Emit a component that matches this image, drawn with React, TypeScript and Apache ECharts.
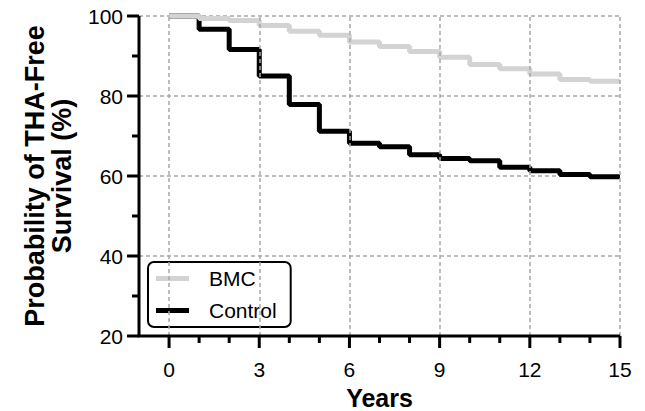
import React, { useEffect, useRef } from "react";
import * as echarts from "echarts";

const years = [0, 1, 2, 3, 4, 5, 6, 7, 8, 9, 10, 11, 12, 13, 14, 15];
const bmcSurvival = [100, 99.4, 98.9, 97.6, 96.2, 95.2, 93.5, 92.4, 91.1, 89.7, 87.9, 86.8, 85.5, 84.1, 83.7, 83.7];
const controlSurvival = [100, 96.7, 91.6, 85.0, 77.9, 71.2, 68.2, 67.3, 65.3, 64.4, 63.8, 62.2, 61.3, 60.4, 59.8, 59.8];
const xMajorTicks = [0, 3, 6, 9, 12, 15];
const xMinorTicks = [1, 2, 4, 5, 7, 8, 10, 11, 13, 14];
const yMajorTicks = [20, 40, 60, 80, 100];
const yMinorTicks = [30, 50, 70, 90];
const seriesNames = ["BMC", "Control"];

const X_MIN = -1;
const X_MAX = 15;
const Y_MIN = 20;
const Y_MAX = 100;

const FONT = '"Liberation Sans", Arial, Helvetica, sans-serif';
const GRID_COLOR = "#a8a8a8";
const BMC_COLOR = "#d3d3d3";
const CONTROL_COLOR = "#000000";
const AXIS_W = 3;

function tickSeries(values: number[], axis: "x" | "y", len: number) {
  return {
    type: "custom",
    coordinateSystem: "cartesian2d",
    clip: false,
    silent: true,
    z: 6,
    encode: { x: 0, y: 1 },
    data: values.map((v) => (axis === "x" ? [v, Y_MIN] : [X_MIN, v])),
    renderItem: (params: any, api: any) => {
      const p = api.coord([api.value(0), api.value(1)]);
      const shape =
        axis === "x"
          ? { x1: p[0], y1: p[1], x2: p[0], y2: p[1] + len }
          : { x1: p[0], y1: p[1], x2: p[0] - len, y2: p[1] };
      return { type: "line", shape, style: { stroke: "#000", lineWidth: AXIS_W } };
    },
  };
}

export default function App() {
  const ref = useRef<HTMLDivElement>(null);
  useEffect(() => {
    if (!ref.current) return;
    const chart = echarts.init(ref.current, null, { renderer: "svg" });
    chart.setOption({
      animation: false,
      textStyle: { fontFamily: FONT },
      grid: { left: 139, right: 25, top: 16, bottom: 75, containLabel: false, outerBoundsMode: "none" },
      legend: {
        data: seriesNames,
        orient: "vertical",
        left: 148,
        top: 262,
        padding: [6, 14, 6, 8],
        itemGap: 11,
        itemWidth: 33,
        itemHeight: 5,
        icon: "rect",
        borderColor: "#000",
        borderWidth: 2,
        borderRadius: 6,
        backgroundColor: "#fff",
        textStyle: { fontSize: 21, color: "#000", fontFamily: FONT, padding: [0, 0, 0, 15] },
      },
      xAxis: {
        type: "value",
        min: X_MIN,
        max: X_MAX,
        interval: 1,
        name: "Years",
        nameLocation: "middle",
        nameGap: 49,
        nameTextStyle: { fontSize: 25, fontWeight: "bold", color: "#000", fontFamily: FONT },
        axisLine: { show: false, onZero: false },
        axisTick: { show: false },
        axisLabel: {
          show: true,
          margin: 23,
          fontSize: 21,
          color: "#000",
          formatter: (v: number) => (xMajorTicks.indexOf(v) >= 0 ? String(v) : ""),
        },
        splitLine: { show: false },
      },
      yAxis: {
        type: "value",
        min: Y_MIN,
        max: Y_MAX,
        interval: 20,
        name: "Probability of THA-Free\nSurvival (%)",
        nameLocation: "middle",
        nameRotate: 90,
        nameGap: 64,
        nameTextStyle: { fontSize: 27, fontWeight: "bold", color: "#000", lineHeight: 27, fontFamily: FONT, align: "center" },
        axisLine: { show: false, onZero: false },
        axisTick: { show: false },
        axisLabel: { margin: 16, fontSize: 21, color: "#000" },
        splitLine: { show: true, lineStyle: { color: GRID_COLOR, width: 1.5, type: [4, 3] } },
      },
      series: [
        {
          type: "line",
          data: [],
          z: 1,
          silent: true,
          markLine: {
            silent: true,
            symbol: ["none", "none"],
            label: { show: false },
            lineStyle: { color: GRID_COLOR, width: 1.5, type: [4, 3] },
            data: xMajorTicks.map((v) => ({ xAxis: v })),
          },
        },
        {
          name: seriesNames[1],
          type: "line",
          step: "end",
          symbol: "none",
          clip: false,
          z: 3,
          data: years.map((t, i) => [t, controlSurvival[i]]),
          itemStyle: { color: CONTROL_COLOR },
          lineStyle: { color: CONTROL_COLOR, width: 5 },
        },
        {
          name: seriesNames[0],
          type: "line",
          step: "end",
          symbol: "none",
          clip: false,
          z: 4,
          data: years.map((t, i) => [t, bmcSurvival[i]]),
          itemStyle: { color: BMC_COLOR },
          lineStyle: { color: BMC_COLOR, width: 5 },
        },
        {
          type: "custom",
          coordinateSystem: "cartesian2d",
          clip: false,
          silent: true,
          z: 6,
          encode: { x: 0, y: 1 },
          data: [[X_MIN, Y_MIN]],
          renderItem: (params: any, api: any) => {
            const origin = api.coord([X_MIN, Y_MIN]);
            const right = api.coord([X_MAX, Y_MIN]);
            const top = api.coord([X_MIN, Y_MAX]);
            const h = AXIS_W / 2;
            return {
              type: "group",
              children: [
                { type: "line", shape: { x1: origin[0] - h, y1: origin[1], x2: right[0], y2: right[1] }, style: { stroke: "#000", lineWidth: AXIS_W } },
                { type: "line", shape: { x1: top[0], y1: top[1], x2: origin[0], y2: origin[1] }, style: { stroke: "#000", lineWidth: AXIS_W } },
              ],
            };
          },
        },
        tickSeries(xMajorTicks, "x", 12),
        tickSeries(xMinorTicks, "x", 7),
        tickSeries(yMajorTicks, "y", 12),
        tickSeries(yMinorTicks, "y", 7),
      ],
    });
    return () => chart.dispose();
  }, []);
  return (
    <div
      ref={ref}
      style={{ position: "absolute", left: 0, top: 0, width: 645, height: 411, background: "#fff" }}
    />
  );
}
